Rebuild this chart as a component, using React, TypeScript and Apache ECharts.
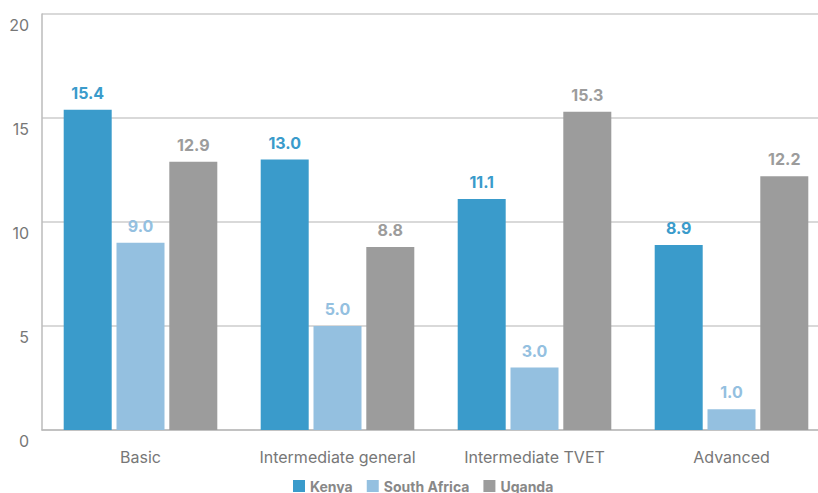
import React, { useEffect, useRef } from "react";
import * as echarts from "echarts";

const categories = ["Basic", "Intermediate general", "Intermediate TVET", "Advanced"];
const kenya = [15.4, 13.0, 11.1, 8.9];
const southAfrica = [9.0, 5.0, 3.0, 1.0];
const uganda = [12.9, 8.8, 15.3, 12.2];
const yTicks = { min: 0, max: 20, interval: 5 };

const FONT = "Inter, 'Noto Sans', sans-serif";

function makeSeries(name: string, data: number[], color: string) {
  return {
    name,
    type: "bar" as const,
    data,
    barWidth: 48,
    barGap: "10%",
    itemStyle: { color },
    label: {
      show: true,
      position: "top" as const,
      distance: 9,
      formatter: (p: any) => Number(p.value).toFixed(1),
      color,
      fontFamily: FONT,
      fontWeight: "bold" as const,
      fontSize: 16,
    },
  };
}

export default function App() {
  const ref = useRef<HTMLDivElement>(null);

  useEffect(() => {
    if (!ref.current) return;
    const chart = echarts.init(ref.current, undefined, { renderer: "svg" });
    chart.setOption({
      animation: false,
      textStyle: { fontFamily: FONT },
      // the plot runs slightly past the right edge of the canvas
      grid: {
        left: 42,
        width: 788,
        top: 14,
        bottom: 63,
        containLabel: false,
        outerBoundsMode: "none",
      },
      legend: {
        left: 288,
        bottom: -5,
        itemWidth: 12,
        itemHeight: 12,
        itemGap: 14,
        icon: "rect",
        textStyle: { color: "#888", fontWeight: "bold", fontSize: 14, fontFamily: FONT },
        data: ["Kenya", "South Africa", "Uganda"],
      },
      xAxis: {
        type: "category",
        data: categories,
        axisLine: { show: true, lineStyle: { color: "#bbb", width: 1.5 } },
        axisTick: { show: false },
        axisLabel: { color: "#777", fontSize: 16, margin: 19, interval: 0, fontFamily: FONT },
      },
      yAxis: {
        type: "value",
        min: yTicks.min,
        max: yTicks.max,
        interval: yTicks.interval,
        axisLine: { show: true, lineStyle: { color: "#bbb", width: 1.5 } },
        axisTick: { show: false },
        splitLine: { show: true, lineStyle: { color: "#ccc", width: 1.5 } },
        axisLabel: {
          color: "#777",
          fontSize: 16,
          margin: 13,
          verticalAlign: "top",
          padding: [3, 0, 0, 0],
          fontFamily: FONT,
        },
      },
      series: [
        makeSeries("Kenya", kenya, "#3a9bcb"),
        makeSeries("South Africa", southAfrica, "#94c0e0"),
        makeSeries("Uganda", uganda, "#9c9c9c"),
      ],
    });
    return () => chart.dispose();
  }, []);

  return (
    <div
      ref={ref}
      style={{ position: "fixed", left: 0, top: 0, width: 818, height: 493, background: "#fff" }}
    />
  );
}
